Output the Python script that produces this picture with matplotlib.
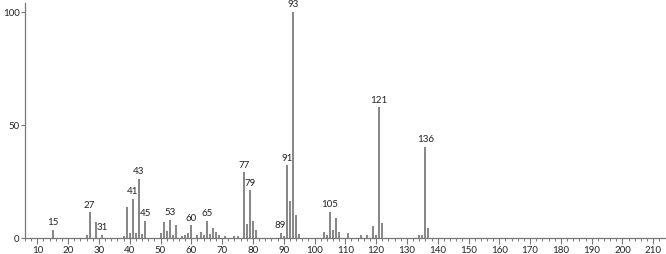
import matplotlib
matplotlib.use("Agg")
import matplotlib.pyplot as plt
from matplotlib.ticker import MultipleLocator

mz = [15, 26, 27, 29, 31, 38, 39, 40, 41, 42, 43, 44, 45,
      50, 51, 52, 53, 54, 55, 57, 58, 59, 60, 62, 63, 64, 65, 66, 67, 68, 69,
      71, 74, 75, 77, 78, 79, 80, 81, 89, 90, 91, 92, 93, 94, 95,
      103, 104, 105, 106, 107, 108, 111, 115, 117, 119, 120, 121, 122,
      134, 135, 136, 137]
intensity = [3.5, 1.2, 11.4, 7.1, 1.5, 1.0, 13.6, 2.4, 17.3, 2.1, 26.2, 1.6, 7.5,
             2.0, 6.9, 3.1, 8.0, 1.5, 5.6, 1.0, 1.5, 2.0, 5.6, 1.5, 2.8, 1.5, 7.7, 1.8, 4.3, 2.8, 1.5,
             1.0, 1.0, 1.0, 29.0, 6.2, 21.1, 7.7, 3.5, 2.4, 1.0, 32.2, 16.4, 100.0, 10.0, 1.6,
             2.5, 1.5, 11.5, 3.5, 8.7, 2.8, 2.0, 1.5, 1.5, 5.3, 1.5, 57.8, 6.5,
             1.3, 1.3, 40.3, 4.6]
labeled = [15, 27, 31, 41, 43, 45, 53, 60, 65, 77, 79, 89, 91, 93, 105, 121, 136]
x_ticks = list(range(10, 211, 10))
y_ticks = [0, 50, 100]

plt.rcParams['font.family'] = ['Lato', 'DejaVu Sans']
fig = plt.figure(figsize=(6.66, 2.54), dpi=100)
ax = fig.add_axes([25/666, 16/254, 640/666, 235/254])

ax.vlines(mz, 0, intensity, colors='#666666', linewidth=1.1)
for m, v in zip(mz, intensity):
    if m in labeled:
        ax.text(m, v + 1.2, str(m), ha='center', va='bottom', fontsize=7, color='#222222')

ax.set_xlim(6, 213.8)
ax.set_ylim(0, 104)
ax.set_xticks(x_ticks)
ax.set_xticklabels([str(t) for t in x_ticks])
ax.xaxis.set_minor_locator(MultipleLocator(2))
ax.set_yticks(y_ticks)
ax.set_yticklabels([str(t) for t in y_ticks])
for s in ['top', 'right']:
    ax.spines[s].set_visible(False)
for s in ['left', 'bottom']:
    ax.spines[s].set_color('#777777')
    ax.spines[s].set_linewidth(0.9)
ax.tick_params(axis='x', which='major', length=4, width=0.8, color='#777777',
               labelsize=7, pad=2, labelcolor='#222222')
ax.tick_params(axis='x', which='minor', length=2, width=0.7, color='#777777')
ax.tick_params(axis='y', which='major', length=3, width=0.8, color='#777777',
               labelsize=7, pad=1, labelcolor='#222222')

fig.savefig('out.png', dpi=100)
